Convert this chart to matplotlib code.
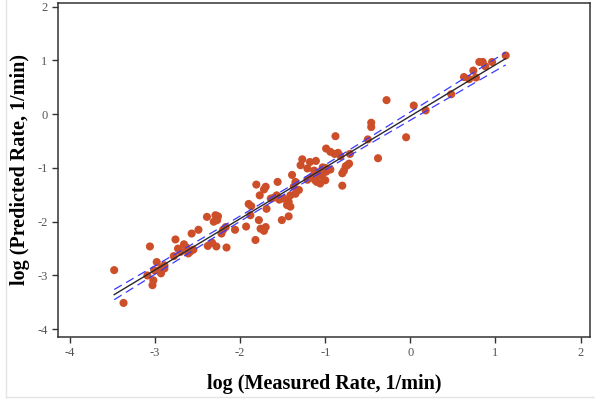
import matplotlib
matplotlib.use("Agg")
import matplotlib.pyplot as plt
from matplotlib.lines import Line2D
import numpy as np

# measured vs predicted rates (log10, 1/min)
measured = [-3.48, -3.37, -3.06, -3.09, -3.02, -3.03, -2.98, -3.01, -2.96, -2.92,
            -2.89, -2.78, -2.76, -2.73, -2.70, -2.66, -2.63, -2.59, -2.55, -2.61,
            -2.57, -2.49, -2.39, -2.31, -2.29, -2.27, -2.26, -2.38, -2.33, -2.28,
            -2.22, -2.20, -2.17, -2.16, -2.06, -1.93, -1.90, -1.87, -1.88, -1.82,
            -1.81, -1.77, -1.70, -1.72, -1.69, -1.70, -1.76, -1.72, -1.64, -1.60,
            -1.57, -1.54, -1.56, -1.49, -1.51, -1.43, -1.43, -1.41, -1.45, -1.39,
            -1.35, -1.37, -1.31, -1.35, -1.41, -1.29, -1.27, -1.21, -1.18, -1.11,
            -1.16, -1.12, -1.10, -1.06, -1.00, -1.03, -0.99, -0.94, -1.08, -1.04,
            -0.99, -0.94, -0.89, -0.85, -0.82, -0.88, -0.74, -0.72, -0.78, -0.80,
            -0.80, -0.71, -0.50, -0.46, -0.46, -0.38, -0.28, -0.05, 0.04, 0.18,
            0.48, 0.63, 0.69, 0.74, 0.77, 0.81, 0.85, 0.88, 0.96, 1.12,
            -1.78, -1.21, -0.76, -2.93, -2.89, -1.06, -1.00, -1.13]
predicted = [-2.90, -3.51, -2.46, -3.00, -3.09, -3.18, -2.75, -2.90, -2.91, -2.85,
             -2.81, -2.64, -2.33, -2.50, -2.56, -2.42, -2.48, -2.56, -2.52, -2.59,
             -2.22, -2.15, -1.91, -2.00, -1.88, -1.97, -1.90, -2.45, -2.39, -2.46,
             -2.22, -2.15, -2.10, -2.48, -2.15, -2.09, -1.67, -1.71, -1.88, -2.34,
             -1.31, -1.51, -1.35, -1.40, -1.76, -2.10, -2.13, -2.17, -1.57, -1.55,
             -1.51, -1.59, -1.26, -1.57, -1.97, -1.90, -1.63, -1.72, -1.69, -1.13,
             -1.26, -1.35, -1.41, -1.48, -1.51, -0.95, -0.84, -1.01, -0.89, -0.87,
             -1.17, -1.23, -1.26, -1.29, -1.23, -0.99, -1.07, -1.03, -1.10, -1.15,
             -0.64, -0.70, -0.74, -0.72, -0.78, -0.41, -0.95, -0.92, -1.05, -1.10,
             -1.33, -0.74, -0.47, -0.16, -0.24, -0.82, 0.26, -0.43, 0.16, 0.07,
             0.37, 0.69, 0.65, 0.81, 0.68, 0.97, 0.97, 0.89, 0.97, 1.09,
             -1.97, -1.22, -0.97, -2.96, -2.87, -1.13, -1.00, -1.05]

x_ticks = [-4, -3, -2, -1, 0, 1, 2]
y_ticks = [-4, -3, -2, -1, 0, 1, 2]

plt.rcParams['font.family'] = ['Liberation Serif', 'DejaVu Serif']
plt.rcParams['axes.unicode_minus'] = False

x = np.array(measured)
y = np.array(predicted)

# least squares line with 95% confidence band for the mean
slope, icpt = np.polyfit(x, y, 1)
n = len(x)
resid = y - (slope * x + icpt)
s = np.sqrt(np.sum(resid ** 2) / (n - 2))
xs = np.linspace(x.min(), x.max(), 200)
fit = slope * xs + icpt
se = s * np.sqrt(1.0 / n + (xs - x.mean()) ** 2 / np.sum((x - x.mean()) ** 2))
t = 1.98

fig = plt.figure(figsize=(5.95, 4.0), dpi=100)
ax = fig.add_axes([0.0975, 0.158, 0.894, 0.835])

ax.scatter(x, y, s=34, color='#cd4f2a', edgecolors='none', zorder=2)
ax.plot(xs, fit, color='#2a2a2a', lw=1.0, zorder=3)
ax.plot(xs, fit + t * se, color='#3a3aff', lw=0.9, dashes=(7, 4), zorder=3)
ax.plot(xs, fit - t * se, color='#3a3aff', lw=0.9, dashes=(7, 4), zorder=3)

ax.set_xlim(-4.14, 2.11)
ax.set_ylim(-4.14, 2.07)
ax.set_xticks(x_ticks)
ax.set_yticks(y_ticks)
ax.tick_params(direction='out', length=4, width=1, colors='#333333',
               labelcolor='#555555', labelsize=9)
for sp in ax.spines.values():
    sp.set_color('#333333')
    sp.set_linewidth(1.1)

ax.set_xlabel("log (Measured Rate, 1/min)", fontsize=14.5, fontweight='bold', labelpad=11)
ax.set_ylabel("log (Predicted Rate, 1/min)", fontsize=14.5, fontweight='bold', labelpad=5)

# faint frame of the original screenshot
fig.add_artist(Line2D([5.5 / 595, 5.5 / 595], [3.5 / 400, 1.0], transform=fig.transFigure,
                      color='#e4e4e4', lw=1))
fig.add_artist(Line2D([5.5 / 595, 1.0], [3.5 / 400, 3.5 / 400], transform=fig.transFigure,
                      color='#e4e4e4', lw=1))

fig.savefig("out.png", dpi=100)
